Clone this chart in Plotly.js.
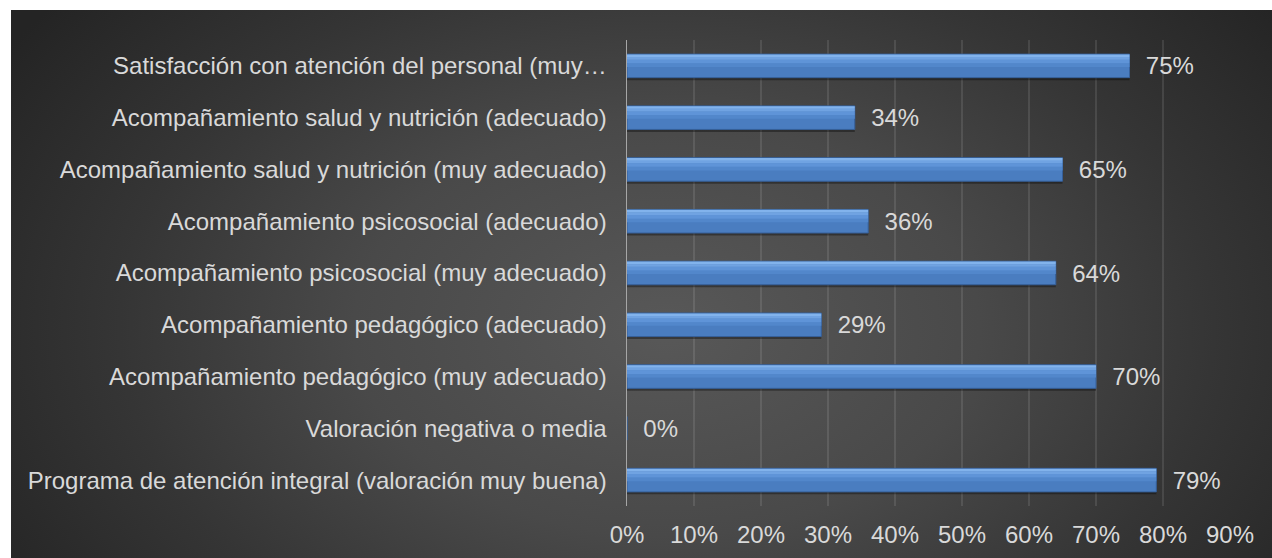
<!DOCTYPE html>
<html>
<head>
<meta charset="utf-8">
<script src="https://cdn.plot.ly/plotly-3.0.1.min.js"></script>
<style>
  html, body { margin: 0; padding: 0; background: #ffffff; }
  #wrap { position: relative; width: 1272px; height: 558px; }
  #bg { position: absolute; left: 11px; top: 10px; width: 1261px; height: 548px;
        background: radial-gradient(ellipse 62% 95% at 52% 58%, #585858 0%, #494949 40%, #353535 70%, #242424 100%); }
  #chart { position: absolute; left: 0; top: 0; width: 1272px; height: 558px; }
</style>
</head>
<body>
<div id="wrap"><div id="bg"></div><div id="chart"></div></div>
<script>
// Categories listed bottom to top
const categories = [
  "Programa de atención integral (valoración muy buena)",
  "Valoración negativa o media",
  "Acompañamiento pedagógico (muy adecuado)",
  "Acompañamiento pedagógico (adecuado)",
  "Acompañamiento psicosocial (muy adecuado)",
  "Acompañamiento psicosocial (adecuado)",
  "Acompañamiento salud y nutrición (muy adecuado)",
  "Acompañamiento salud y nutrición (adecuado)",
  "Satisfacción con atención del personal (muy…"
];
const values = [0.79, 0.00, 0.70, 0.29, 0.64, 0.36, 0.65, 0.34, 0.75];
const tickValues = [0, 0.1, 0.2, 0.3, 0.4, 0.5, 0.6, 0.7, 0.8, 0.9];
const tickLabels = ["0%", "10%", "20%", "30%", "40%", "50%", "60%", "70%", "80%", "90%"];

const FONT = "Liberation Sans, Arial, sans-serif";
const TXT = "#d9d9d9";
const FS = 24;

function band(offset, width, color) {
  return {
    type: "bar", orientation: "h", y: categories, x: values,
    width: width, offset: offset,
    marker: { color: color, line: { width: 0 } },
    hoverinfo: "skip", showlegend: false
  };
}

const shadow = band(-0.275, 0.07, "rgba(0,0,0,0.35)");
const main = {
  type: "bar", orientation: "h", y: categories, x: values,
  width: 0.455, offset: -0.2275,
  marker: { color: "#4a7dc0", line: { color: "#36609a", width: 1 } },
  text: values.map(v => "\u00a0\u00a0" + Math.round(v * 100) + "%"),
  textposition: "outside", cliponaxis: false, constraintext: "none",
  textfont: { color: TXT, size: FS, family: FONT },
  hoverinfo: "skip", showlegend: false
};
const b1 = band(-0.02, 0.07, "#5287cb");
const b2 = band(0.05, 0.07, "#5f94d8");
const b3 = band(0.12, 0.05, "#70a3e2");
const b4 = band(0.17, 0.05, "#82b3ec");

const layout = {
  width: 1272, height: 558,
  margin: { l: 627, r: 42, t: 40, b: 52, pad: 0 },
  paper_bgcolor: "rgba(0,0,0,0)", plot_bgcolor: "rgba(0,0,0,0)",
  barmode: "overlay",
  font: { family: FONT, color: TXT, size: FS },
  xaxis: {
    range: [0, 0.9], tickvals: tickValues, ticktext: tickLabels,
    showgrid: true, gridcolor: "rgba(255,255,255,0.10)", gridwidth: 1.3,
    zeroline: false, showline: false,
    ticks: "outside", ticklen: 7, tickcolor: "rgba(0,0,0,0)",
    tickfont: { color: TXT, size: FS, family: FONT }, fixedrange: true
  },
  yaxis: {
    type: "category", categoryorder: "array", categoryarray: categories,
    range: [-0.5, 8.5],
    showgrid: false, zeroline: false,
    showline: true, linecolor: "#a6a6a6", linewidth: 1.5,
    ticks: "outside", ticklen: 14, tickcolor: "rgba(0,0,0,0)",
    tickfont: { color: TXT, size: FS, family: FONT }, fixedrange: true
  },
  showlegend: false
};

Plotly.newPlot("chart", [shadow, main, b1, b2, b3, b4], layout, { displayModeBar: false, staticPlot: true });
</script>
</body>
</html>
